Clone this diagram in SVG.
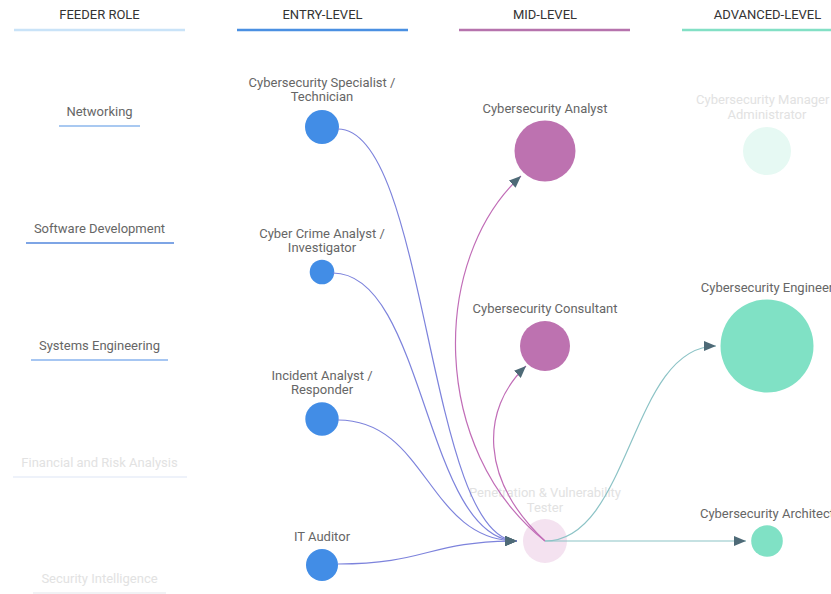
<svg xmlns="http://www.w3.org/2000/svg" width="831" height="594" viewBox="0 0 831 594">
<defs>
<style>
text{font-family:Roboto,"Liberation Sans",Arial,sans-serif;font-size:13px;text-anchor:middle}
.hdr{fill:#333}
.lbl{fill:#666}
.fade{fill:#e2e2e2}
.link{fill:none;stroke-width:1.2}
.lb{stroke:#7d83dc}
.lp{stroke:#c16db7}
.lt{stroke:#8cc3c6}
.blue{fill:#428de6}
.purple{fill:#bd72b0}
.teal{fill:#80e1c5}
</style>
<marker id="arr" viewBox="0 0 12 10" refX="12" refY="5" markerWidth="12" markerHeight="10" markerUnits="userSpaceOnUse" orient="auto">
<path d="M0,0 L12,5 L0,10 z" fill="#4e6a77"/>
</marker>
</defs>
<rect width="831" height="594" fill="#fff"/>
<g id="headers">
<text class="hdr" x="99.5" y="19">FEEDER ROLE</text>
<text class="hdr" x="322.5" y="19">ENTRY-LEVEL</text>
<text class="hdr" x="545" y="19">MID-LEVEL</text>
<text class="hdr" x="767.5" y="19">ADVANCED-LEVEL</text>
<line x1="14" y1="30" x2="185" y2="30" stroke="#c9e3f8" stroke-width="2.6"/>
<line x1="237" y1="30" x2="408" y2="30" stroke="#4a90e2" stroke-width="2.6"/>
<line x1="459" y1="30" x2="630" y2="30" stroke="#b673ad" stroke-width="2.6"/>
<line x1="682" y1="30" x2="853" y2="30" stroke="#83e0c5" stroke-width="2.6"/>
</g>
<g id="feeder-networking">
<text class="lbl" x="99.5" y="115.5">Networking</text>
<line x1="59" y1="126" x2="140" y2="126" stroke="#a9c9f1" stroke-width="2"/>
</g>
<g id="feeder-software">
<text class="lbl" x="99.5" y="232.5">Software Development</text>
<line x1="26" y1="243" x2="174" y2="243" stroke="#7ea5e5" stroke-width="2"/>
</g>
<g id="feeder-systems">
<text class="lbl" x="99.5" y="349.5">Systems Engineering</text>
<line x1="31" y1="360" x2="168" y2="360" stroke="#a6c6f2" stroke-width="2"/>
</g>
<g id="feeder-financial">
<text class="fade" x="99.5" y="466.5">Financial and Risk Analysis</text>
<line x1="13" y1="477" x2="187" y2="477" stroke="#e8eef8" stroke-width="1.5"/>
</g>
<g id="feeder-security">
<text class="fade" x="99.5" y="582.5">Security Intelligence</text>
<line x1="33" y1="593" x2="166" y2="593" stroke="#eceef2" stroke-width="1.5"/>
</g>
<g id="node-specialist">
<text class="lbl" x="322" y="86.5">Cybersecurity Specialist /</text>
<text class="lbl" x="322" y="100.5">Technician</text>
<circle class="blue" cx="322" cy="127" r="17"/>
</g>
<g id="node-cybercrime">
<text class="lbl" x="322" y="237.5">Cyber Crime Analyst /</text>
<text class="lbl" x="322" y="251.5">Investigator</text>
<circle class="blue" cx="322" cy="272" r="12.3"/>
</g>
<g id="node-incident">
<text class="lbl" x="322" y="379.5">Incident Analyst /</text>
<text class="lbl" x="322" y="393.5">Responder</text>
<circle class="blue" cx="322" cy="419" r="16.7"/>
</g>
<g id="node-auditor">
<text class="lbl" x="322" y="540.5">IT Auditor</text>
<circle class="blue" cx="322" cy="565" r="16"/>
</g>
<g id="node-analyst">
<text class="lbl" x="545" y="112.5">Cybersecurity Analyst</text>
<circle class="purple" cx="545" cy="151" r="30.5"/>
</g>
<g id="node-consultant">
<text class="lbl" x="545" y="312.5">Cybersecurity Consultant</text>
<circle class="purple" cx="545" cy="346" r="25"/>
</g>
<g id="node-pentester">
<text class="fade" x="545" y="496.5">Penetration &amp; Vulnerability</text>
<text class="fade" x="545" y="511.5">Tester</text>
<circle cx="545" cy="541" r="22" fill="#f4e2f0"/>
</g>
<g id="node-manager">
<text class="fade" x="767" y="103.5">Cybersecurity Manager /</text>
<text class="fade" x="767" y="118.5">Administrator</text>
<circle cx="767" cy="151" r="24" fill="#e6f9f3"/>
</g>
<g id="node-engineer">
<text class="lbl" x="767" y="291.5">Cybersecurity Engineer</text>
<circle class="teal" cx="767" cy="346" r="46.5"/>
</g>
<g id="node-architect">
<text class="lbl" x="767" y="517.5">Cybersecurity Architect</text>
<circle class="teal" cx="767" cy="541" r="15.8"/>
</g>
<g id="connectors">
<path class="link lb" d="M338,129 C427.5,129 427.5,541 517,541" marker-end="url(#arr)"/>
<path class="link lb" d="M333,273 C425,273 425,541 517,541" marker-end="url(#arr)"/>
<path class="link lb" d="M338,420 C427.5,420 427.5,541 517,541" marker-end="url(#arr)"/>
<path class="link lb" d="M338,564 C427.5,564 427.5,541 517,541" marker-end="url(#arr)"/>
<path class="link lp" d="M545,541 C430,450 430,260 521,176" marker-end="url(#arr)"/>
<path class="link lp" d="M545,541 C480,480 480,410 526,366" marker-end="url(#arr)"/>
<path class="link lt" d="M545,541 C630.5,541 630.5,346 716,346" marker-end="url(#arr)"/>
<path class="link lt" d="M545,541 L746,541" marker-end="url(#arr)"/>
</g>
</svg>
